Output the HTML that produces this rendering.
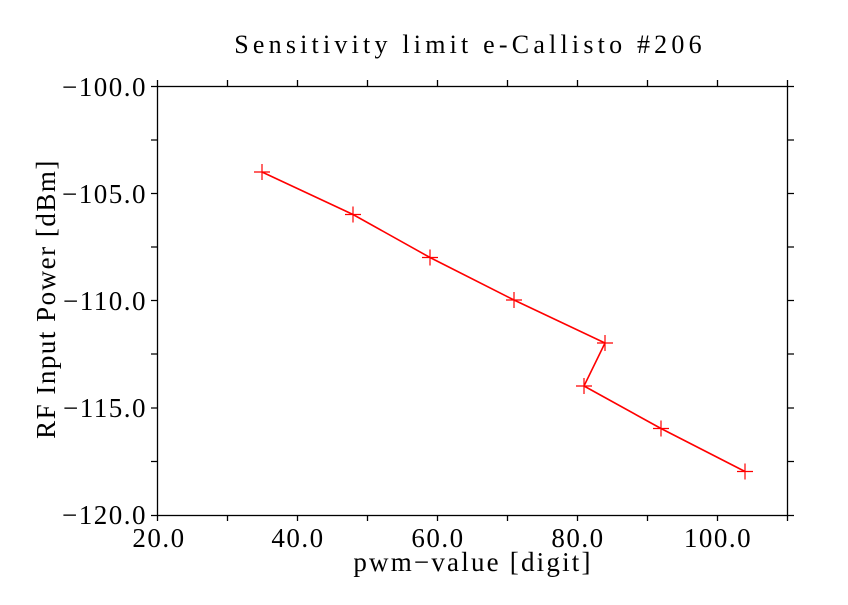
<!DOCTYPE html>
<html><head><style>body{margin:0;background:#fff}</style></head><body>
<svg width="848" height="600" xmlns="http://www.w3.org/2000/svg" font-family="Liberation Serif, serif" font-size="27" fill="#000">
<rect width="848" height="600" fill="#fff"/>
<text x="470" y="53" text-anchor="middle" font-size="26" letter-spacing="4.2">Sensitivity limit e-Callisto #206</text>
<rect x="157.5" y="86.5" width="630" height="429" fill="none" stroke="#000" stroke-width="1.3"/>
<g stroke="#000" stroke-width="1.3">
<path d="M157.5 515v6M227.5 515v6M297.5 515v6M367.5 515v6M437.5 515v6M507.5 515v6M577.5 515v6M647.5 515v6M717.5 515v6M787.5 515v6
M157.5 86v-6M227.5 86v-6M297.5 86v-6M367.5 86v-6M437.5 86v-6M507.5 86v-6M577.5 86v-6M647.5 86v-6M717.5 86v-6M787.5 86v-6"/>
<path d="M157 86.5h-6M157 140h-6M157 193.5h-6M157 247h-6M157 300.5h-6M157 354h-6M157 408h-6M157 461.5h-6M157 515.5h-6
M788 86.5h6M788 140h6M788 193.5h6M788 247h6M788 300.5h6M788 354h6M788 408h6M788 461.5h6M788 515.5h6"/>
</g>
<g text-anchor="end" letter-spacing="1.5">
<text x="147" y="96">−100.0</text>
<text x="147" y="203">−105.0</text>
<text x="147" y="310">−110.0</text>
<text x="147" y="417">−115.0</text>
<text x="147" y="524">−120.0</text>
</g>
<g text-anchor="middle" letter-spacing="1.5">
<text x="159" y="547">20.0</text>
<text x="298" y="547">40.0</text>
<text x="438" y="547">60.0</text>
<text x="578" y="547">80.0</text>
<text x="718" y="547">100.0</text>
<text x="473" y="571" letter-spacing="2.2">pwm−value [digit]</text>
<text transform="translate(55,299) rotate(-90)" letter-spacing="1.5">RF Input Power [dBm]</text>
</g>
<g stroke="#f00" stroke-width="1.6" fill="none">
<polyline points="262,172 353,214.5 430,257.5 514,300 605,343 584,386 661,428.5 745,471.5"/>
<path d="M254,172h16M262,164v16M345,214.5h16M353,206.5v16M422,257.5h16M430,249.5v16M506,300h16M514,292v16M597,343h16M605,335v16M576,386h16M584,378v16M653,428.5h16M661,420.5v16M737,471.5h16M745,463.5v16" stroke-width="1.2"/>
</g>
</svg>
</body></html>
